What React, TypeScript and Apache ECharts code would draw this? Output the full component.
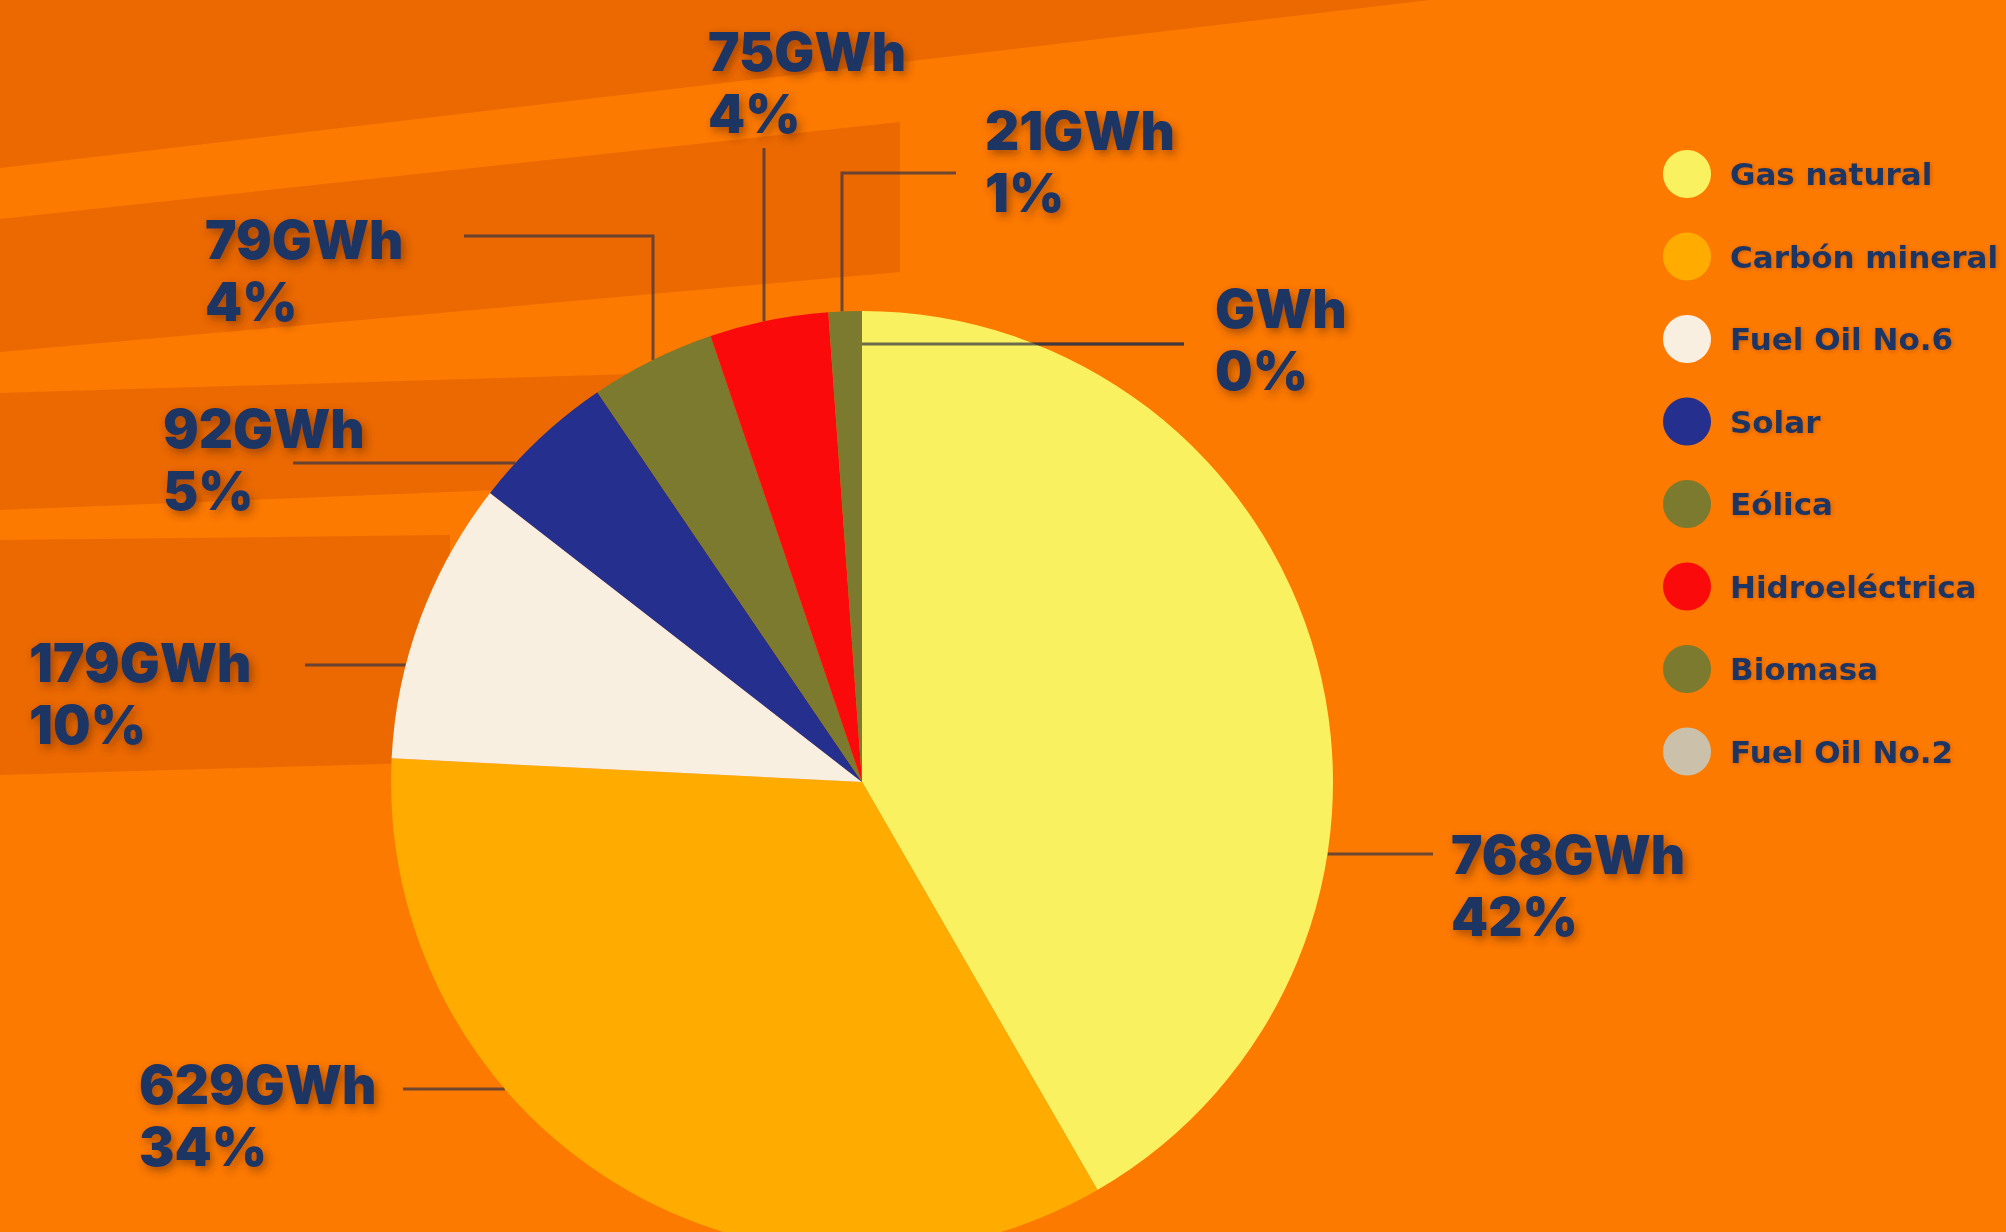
import React, { useEffect, useRef } from "react";
import * as echarts from "echarts";

// ---- data ----
const CATEGORIES = [
  "Gas natural",
  "Carbón mineral",
  "Fuel Oil No.6",
  "Solar",
  "Eólica",
  "Hidroeléctrica",
  "Biomasa",
  "Fuel Oil No.2",
];
const VALUES_GWH = [768, 629, 179, 92, 79, 75, 21, 0];
const COLORS = [
  "#f9f160",
  "#ffab00",
  "#f8efe1",
  "#242f8e",
  "#7b7a2e",
  "#fb0a0c",
  "#7b7a2e",
  "#cbc1aa",
];

// ---- layout (pixels) ----
const W = 2006;
const H = 1232;
const CX = 862;
const CY = 782;
const R = 471;
const NAVY = "#1d3563";
const LINE_COLOR = "rgba(50,50,70,0.7)";

// label top-left positions
const LABEL_POS: number[][] = [
  [1451, 824],
  [139, 1054],
  [29, 632],
  [163, 398],
  [205, 209],
  [708, 21],
  [985, 100],
  [1215, 278],
];
// leader routes: start near label, optional elbow, then to the pie
const LEADERS: { from: number[]; via?: number[]; to: string }[] = [
  { from: [1433, 854], to: "right" },
  { from: [403, 1089], to: "left" },
  { from: [305, 665], to: "left" },
  { from: [293, 463], to: "left" },
  { from: [464, 236], via: [653, 236], to: "top" },
  { from: [764, 148], to: "top" },
  { from: [956, 173], via: [842, 173], to: "top" },
  { from: [1184, 344], to: "axis" },
];

function endPoint(last: number[], to: string): number[] {
  if (to === "right") return [CX + Math.sqrt(R * R - (last[1] - CY) ** 2), last[1]];
  if (to === "left") return [CX - Math.sqrt(R * R - (last[1] - CY) ** 2), last[1]];
  if (to === "top") return [last[0], CY - Math.sqrt(R * R - (last[0] - CX) ** 2)];
  return [CX, last[1]];
}

function leaderPoints(i: number): number[][] {
  const lead = LEADERS[i];
  const pts = [lead.from];
  if (lead.via) pts.push(lead.via);
  pts.push(endPoint(pts[pts.length - 1], lead.to));
  return pts;
}

const BANDS: number[][][] = [
  [[0, 0], [1430, 0], [0, 168]],
  [[0, 219], [900, 122], [900, 272], [0, 352]],
  [[0, 393], [700, 372], [700, 482], [0, 510]],
  [[0, 540], [450, 535], [450, 762], [0, 775]],
];

export default function App() {
  const ref = useRef<HTMLDivElement>(null);
  useEffect(() => {
    if (!ref.current) return;
    const chart = echarts.init(ref.current, null, { renderer: "svg" });
    // leader lines that run across the pie itself (drawn on top of the sectors)
    const overLines = LEADERS.map((l, i) => ({ l, i }))
      .filter(({ l }) => l.to === "axis")
      .map(({ i }) => ({
        type: "polyline",
        silent: true,
        z: 50,
        shape: { points: leaderPoints(i) },
        style: { stroke: LINE_COLOR, lineWidth: 3, fill: "none" },
      }));
    chart.setOption({
      animation: false,
      backgroundColor: "#fd7a00",
      graphic: {
        elements: [
          ...BANDS.map((pts) => ({
            type: "polygon",
            silent: true,
            z: -10,
            shape: { points: pts },
            style: { fill: "#e86600", opacity: 0.85 },
          })),
          ...overLines,
        ],
      },
      legend: {
        orient: "vertical",
        left: 1658,
        top: 145,
        itemWidth: 48,
        itemHeight: 48,
        itemGap: 34.5,
        icon: "circle",
        selectedMode: false,
        data: CATEGORIES,
        textStyle: {
          fontFamily: "DejaVu Sans",
          fontWeight: "bold",
          fontSize: 31,
          color: NAVY,
          padding: [0, 0, 0, 14],
          textShadowColor: "rgba(110,45,0,0.35)",
          textShadowBlur: 4,
          textShadowOffsetX: 1,
          textShadowOffsetY: 1,
        },
      },
      series: [
        {
          type: "pie",
          center: [CX, CY],
          radius: R,
          startAngle: 90,
          clockwise: true,
          avoidLabelOverlap: false,
          percentPrecision: 2,
          itemStyle: { borderWidth: 0 },
          emphasis: { disabled: true },
          data: CATEGORIES.map((name, i) => ({
            name,
            value: VALUES_GWH[i],
            itemStyle: { color: COLORS[i] },
          })),
          label: {
            show: true,
            position: "outside",
            overflow: "none",
            formatter: (p: any) =>
              `${p.value ? p.value : ""}GWh\n${Math.round(p.percent)}%`,
            fontFamily: "Inter",
            fontWeight: 900,
            fontSize: 53,
            lineHeight: 62,
            color: NAVY,
            textShadowColor: "rgba(110,45,0,0.6)",
            textShadowBlur: 10,
            textShadowOffsetX: 3,
            textShadowOffsetY: 4,
          },
          labelLine: {
            show: true,
            showAbove: true,
            length: 10,
            length2: 10,
            lineStyle: { color: LINE_COLOR, width: 3 },
          },
          labelLayout: (params: any) => {
            const i = params.dataIndex;
            return {
              x: LABEL_POS[i][0],
              y: LABEL_POS[i][1],
              align: "left",
              verticalAlign: "top",
              labelLinePoints: leaderPoints(i),
            };
          },
        },
      ],
    });
    return () => chart.dispose();
  }, []);
  return (
    <div
      ref={ref}
      style={{ position: "fixed", left: 0, top: 0, width: W, height: H }}
    />
  );
}
